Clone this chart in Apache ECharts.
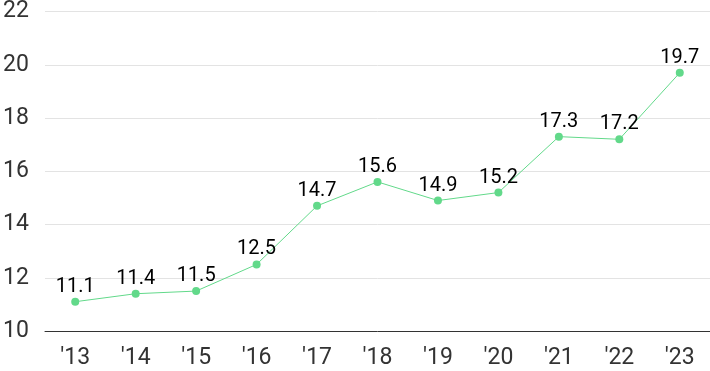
<!DOCTYPE html>
<html><head><meta charset="utf-8">
<script src="https://cdn.jsdelivr.net/npm/echarts@6/dist/echarts.min.js"></script>
<style>html,body{margin:0;padding:0;background:#fff}#c{width:710px;height:371px}</style>
</head><body><div id="c"></div>
<script>
const categories = ["'13","'14","'15","'16","'17","'18","'19","'20","'21","'22","'23"];
const values = [11.1, 11.4, 11.5, 12.5, 14.7, 15.6, 14.9, 15.2, 17.3, 17.2, 19.7];
const chart = echarts.init(document.getElementById('c'));
chart.setOption({
  animation: false,
  grid: {left: 42, right: 0, top: 7, bottom: 40},
  xAxis: {
    type: 'category', data: categories, boundaryGap: true,
    axisLine: {lineStyle: {color: '#333', width: 1}},
    axisTick: {show: false},
    axisLabel: {color: '#333', fontSize: 23, fontFamily: 'Roboto', margin: 16}
  },
  yAxis: {
    type: 'value', min: 10, max: 22, interval: 2,
    axisLine: {show: false}, axisTick: {show: false},
    splitLine: {lineStyle: {color: '#e3e3e3'}},
    axisLabel: {color: '#333', fontSize: 23, fontFamily: 'Roboto', align: 'left', margin: 42}
  },
  series: [{
    type: 'line', data: values,
    symbol: 'circle', symbolSize: 8,
    lineStyle: {color: '#62d98a', width: 1},
    itemStyle: {color: '#62d98a'},
    label: {show: true, position: 'top', color: '#000', fontSize: 20, fontFamily: 'Roboto', distance: 1}
  }]
});
</script></body></html>
